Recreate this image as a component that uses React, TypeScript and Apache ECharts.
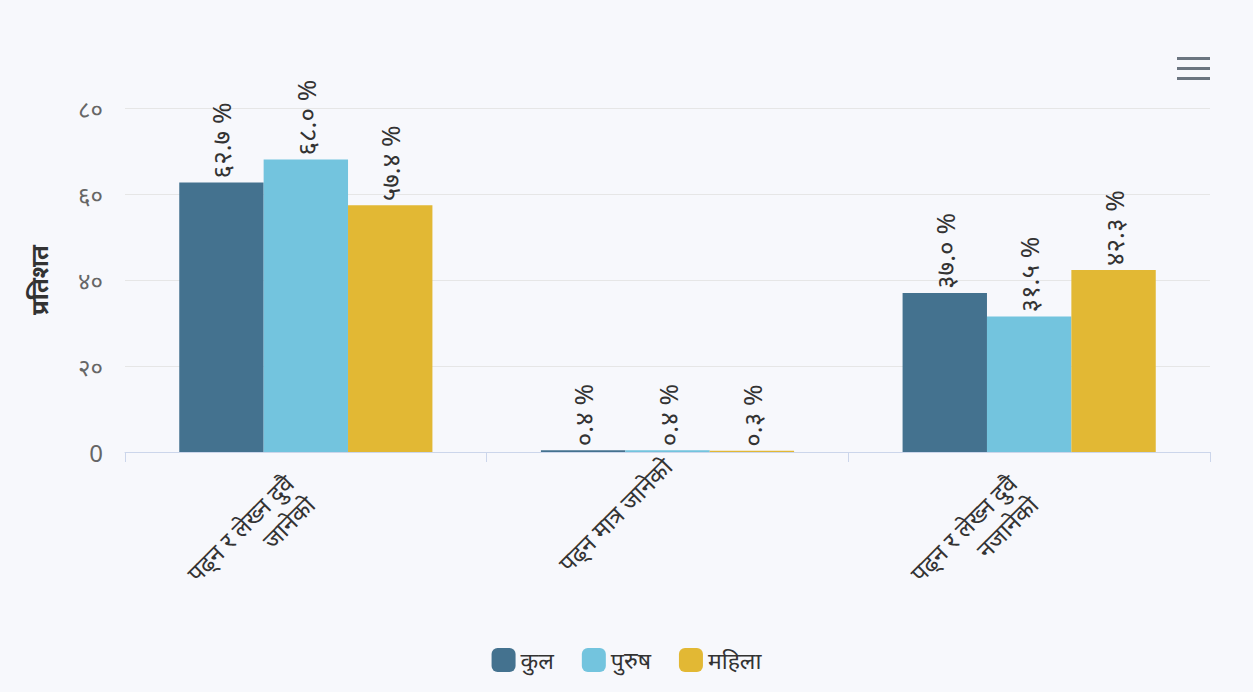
import React, { useEffect, useRef } from "react";
import * as echarts from "echarts";

const categories = ["पढ्न र लेख्न दुवै\nजानेको", "पढ्न मात्र जानेको", "पढ्न र लेख्न दुवै\nनजानेको"];
const seriesNames = ["कुल", "पुरुष", "महिला"];
const kulValues = [62.7, 0.4, 37.0];
const purushValues = [68.0, 0.4, 31.5];
const mahilaValues = [57.4, 0.3, 42.3];
const yTicks = [0, 20, 40, 60, 80];

const colors = ["#44728f", "#73c4de", "#e2b834"];
const FONT = "'Noto Sans', 'Open Sans', sans-serif";

const nepDigits = ["०", "१", "२", "३", "४", "५", "६", "७", "८", "९"];
const toNep = (s: string) => s.replace(/[0-9]/g, (d) => nepDigits[Number(d)]);

export default function App() {
  const ref = useRef<HTMLDivElement>(null);
  useEffect(() => {
    document.body.style.margin = "0";
    const chart = echarts.init(ref.current!, undefined, { renderer: "svg" });
    const mkSeries = (name: string, data: number[], color: string) => ({
      name,
      type: "bar",
      data,
      barGap: "0%",
      barCategoryGap: "30%",
      itemStyle: { color },
      label: {
        show: true,
        position: "top",
        rotate: 90,
        align: "left",
        verticalAlign: "middle",
        distance: 4,
        fontFamily: FONT,
        fontSize: 26,
        color: "#333333",
        formatter: (p: any) => toNep(Number(p.value).toFixed(1)) + " %",
      },
    });
    const xData = categories.map((c) =>
      c.indexOf("\n") >= 0 ? { value: c, textStyle: { padding: [0, 24, 0, 0] } } : c
    );
    chart.setOption({
      animation: false,
      backgroundColor: "#f7f8fc",
      textStyle: { fontFamily: FONT },
      grid: { left: 125, right: 43, top: 108, bottom: 240 },
      legend: {
        bottom: 15,
        left: "center",
        icon: "roundRect",
        itemWidth: 24,
        itemHeight: 24,
        itemGap: 28,
        textStyle: { fontSize: 23, color: "#333333", fontFamily: FONT },
        data: seriesNames,
      },
      xAxis: {
        type: "category",
        data: xData,
        axisLine: { lineStyle: { color: "#ccd6eb", width: 1 } },
        axisTick: { show: true, length: 10, lineStyle: { color: "#ccd6eb" } },
        axisLabel: {
          rotate: 45,
          fontSize: 24,
          color: "#333333",
          fontFamily: FONT,
          margin: 10,
          lineHeight: 30,
          formatter: (v: string) => (v.indexOf("\n") >= 0 ? "\n" + v : v),
        },
      },
      yAxis: {
        type: "value",
        min: 0,
        max: 80,
        interval: 20,
        name: "प्रतिशत",
        nameLocation: "middle",
        nameGap: 75,
        nameTextStyle: { fontSize: 24, fontWeight: "bold", color: "#333333", fontFamily: FONT },
        axisLine: { show: false },
        axisTick: { show: false },
        splitLine: { lineStyle: { color: "#e6e6e6" } },
        axisLabel: {
          fontSize: 24,
          color: "#666666",
          margin: 22,
          fontFamily: FONT,
          formatter: (v: number) => (v === 0 ? "0" : toNep(String(v))),
        },
      },
      graphic: [
        {
          type: "group",
          left: 1177,
          top: 57,
          children: [0, 10, 20].map((y) => ({
            type: "rect",
            shape: { x: 0, y, width: 33, height: 3 },
            style: { fill: "#6b7580" },
          })),
        },
      ],
      series: [
        mkSeries(seriesNames[0], kulValues, colors[0]),
        mkSeries(seriesNames[1], purushValues, colors[1]),
        mkSeries(seriesNames[2], mahilaValues, colors[2]),
      ],
    });
    return () => chart.dispose();
  }, []);
  return <div ref={ref} style={{ width: 1253, height: 692 }} />;
}
